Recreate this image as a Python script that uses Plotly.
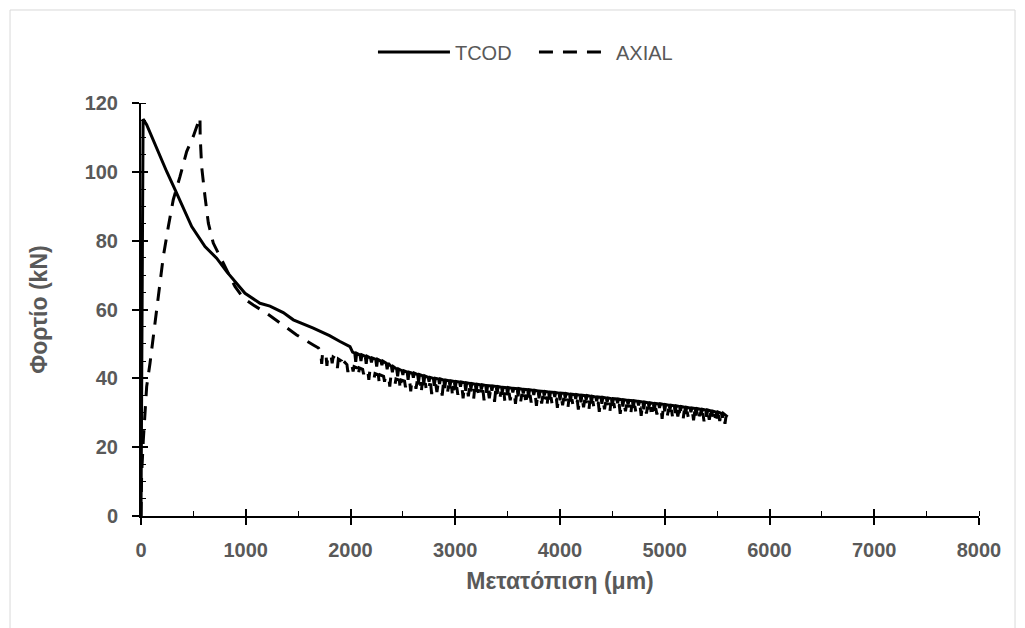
import plotly.graph_objects as go

# ---- data ----
# TCOD: smooth part
tcod_x = [0, 5, 10, 20, 54, 102, 181, 245, 325, 404, 484, 611, 722, 818, 913, 993,
          1136, 1231, 1358, 1454, 1645, 1800, 1900, 1995, 2020]
tcod_y = [0, 40, 90, 115.3, 113.7, 110.3, 104.4, 100.1, 94.8, 89.4, 84.1, 78.3, 74.9, 71.0, 67.6, 64.7,
          61.8, 61.0, 59.1, 57.0, 54.6, 52.4, 50.7, 49.2, 47.6]
# TCOD: noisy part (spike positions, upper level, spike bottom)
tcod_spike_x = [2050, 2100, 2150, 2200, 2250, 2300, 2350, 2400, 2450, 2500, 2550, 2600,
                2650, 2700, 2750, 2800, 2850, 2900, 2950, 3000, 3050, 3100, 3150, 3200,
                3250, 3300, 3350, 3400, 3450, 3500, 3550, 3600, 3650, 3700, 3750, 3800,
                3850, 3900, 3950, 4000, 4050, 4100, 4150, 4200, 4250, 4300, 4350, 4400,
                4450, 4500, 4550, 4600, 4650, 4700, 4750, 4800, 4850, 4900, 4950, 5000,
                5050, 5100, 5150, 5200, 5250, 5300, 5350, 5400, 5450, 5500, 5550]
tcod_top = [47.3, 46.8, 46.4, 45.9, 45.5, 45.0, 44.4, 43.4, 42.7, 42.2, 41.8, 41.5,
            41.1, 40.7, 40.3, 40.0, 39.8, 39.5, 39.3, 39.1, 38.9, 38.7, 38.5, 38.3,
            38.1, 37.9, 37.8, 37.6, 37.4, 37.3, 37.1, 37.0, 36.8, 36.7, 36.5, 36.3,
            36.2, 36.0, 35.9, 35.7, 35.6, 35.4, 35.3, 35.1, 35.0, 34.8, 34.6, 34.5,
            34.3, 34.1, 34.0, 33.8, 33.6, 33.5, 33.3, 33.1, 32.9, 32.7, 32.6, 32.4,
            32.2, 32.0, 31.8, 31.6, 31.4, 31.2, 31.0, 30.8, 30.5, 30.2, 29.8]
tcod_dip = [44.8, 45.0, 44.2, 44.6, 43.4, 43.8, 42.6, 41.8, 40.6, 41.0, 39.6, 40.2,
            39.0, 38.4, 39.0, 37.8, 38.4, 37.2, 37.8, 36.9, 37.6, 36.4, 37.0, 36.2,
            36.8, 35.8, 36.4, 35.5, 36.1, 35.2, 35.9, 34.8, 35.6, 34.7, 35.2, 34.2,
            35.0, 34.0, 34.6, 33.6, 34.4, 33.4, 34.0, 33.0, 33.8, 32.8, 33.4, 32.6,
            33.1, 32.0, 32.8, 31.8, 32.4, 31.4, 32.1, 31.0, 31.8, 30.6, 31.4, 30.4,
            31.0, 29.9, 30.6, 29.6, 30.2, 29.2, 29.8, 28.8, 29.4, 28.3, 28.6]
tcod_end_x, tcod_end_y = 5600, 28.8

# AXIAL: smooth part
axial_x = [0, 6, 22, 38, 54, 86, 117, 150, 181, 213, 261, 308, 372, 436, 499, 547, 563,
           565, 579, 611, 643, 690, 754, 818, 897, 977, 1072, 1200, 1327, 1486, 1645, 1695]
axial_y = [0, 12, 22, 29, 37.6, 44.4, 52.1, 59.9, 67.6, 75.4, 84.1, 91.9, 98.6, 105.9, 110.3, 114.2, 115.8,
           110.3, 101.5, 92.8, 85.1, 79.3, 75.4, 71.5, 66.7, 63.3, 61.3, 58.9, 56.0, 52.6, 49.7, 48.8]
# AXIAL: noisy part
axial_spike_x = [1725, 1775, 1825, 1875, 1925, 1975, 2025, 2075, 2125, 2175, 2225, 2275,
                 2325, 2375, 2425, 2475, 2525, 2575, 2625, 2675, 2725, 2775, 2825, 2875,
                 2925, 2975, 3025, 3075, 3125, 3175, 3225, 3275, 3325, 3375, 3425, 3475,
                 3525, 3575, 3625, 3675, 3725, 3775, 3825, 3875, 3925, 3975, 4025, 4075,
                 4125, 4175, 4225, 4275, 4325, 4375, 4425, 4475, 4525, 4575, 4625, 4675,
                 4725, 4775, 4825, 4875, 4925, 4975, 5025, 5075, 5125, 5175, 5225, 5275,
                 5325, 5375, 5425, 5475, 5525, 5575]
axial_top = [47.6, 46.8, 46.2, 45.6, 45.0, 44.0, 43.4, 43.0, 42.6, 42.0, 41.4, 41.0,
             40.6, 40.2, 39.8, 39.5, 39.2, 38.9, 38.7, 38.5, 38.3, 38.1, 37.9, 37.7,
             37.5, 37.3, 37.1, 36.9, 36.7, 36.5, 36.4, 36.2, 36.0, 35.9, 35.7, 35.5,
             35.4, 35.2, 35.1, 34.9, 34.8, 34.6, 34.5, 34.3, 34.2, 34.0, 33.9, 33.7,
             33.6, 33.4, 33.3, 33.1, 33.0, 32.8, 32.7, 32.5, 32.4, 32.2, 32.0, 31.9,
             31.7, 31.5, 31.4, 31.2, 31.0, 30.9, 30.7, 30.5, 30.4, 30.2, 30.0, 29.9,
             29.7, 29.5, 29.4, 29.2, 29.0, 28.8]
axial_dip = [44.2, 43.6, 44.4, 43.0, 43.6, 41.8, 42.0, 40.8, 41.2, 39.6, 40.0, 38.4,
             39.0, 37.6, 38.2, 36.8, 37.4, 36.2, 37.0, 35.8, 36.4, 35.4, 36.0, 35.0,
             35.6, 34.6, 35.2, 34.2, 34.8, 33.8, 34.6, 33.6, 34.2, 33.2, 33.9, 32.9,
             33.6, 32.6, 33.3, 32.3, 33.0, 32.0, 32.7, 31.8, 32.4, 31.4, 32.2, 31.2,
             31.9, 30.9, 31.6, 30.6, 31.3, 30.3, 31.0, 30.0, 30.7, 29.7, 30.4, 29.4,
             30.1, 29.1, 29.8, 28.8, 29.5, 28.2, 29.2, 28.6, 28.9, 28.0, 28.6, 27.8,
             28.3, 27.5, 28.0, 27.2, 27.6, 26.8]

x_ticks = [0, 1000, 2000, 3000, 4000, 5000, 6000, 7000, 8000]
y_ticks = [0, 20, 40, 60, 80, 100, 120]


def with_spikes(base_x, base_y, sx, top, dip, end=None, half=9):
    xs, ys = list(base_x), list(base_y)
    for c, t, d in zip(sx, top, dip):
        xs += [c - half, c, c + half]
        ys += [t, d, t]
    if end is not None:
        xs.append(end[0])
        ys.append(end[1])
    return xs, ys


tx, ty = with_spikes(tcod_x, tcod_y, tcod_spike_x, tcod_top, tcod_dip, (tcod_end_x, tcod_end_y))
ax, ay = with_spikes(axial_x, axial_y, axial_spike_x, axial_top, axial_dip)

FONT = "Liberation Sans, Arial, sans-serif"
GREY = "#595959"

fig = go.Figure()
fig.add_trace(go.Scatter(x=tx, y=ty, mode="lines", name="TCOD",
                         line=dict(color="black", width=3)))
fig.add_trace(go.Scatter(x=ax, y=ay, mode="lines", name="AXIAL",
                         line=dict(color="black", width=3, dash="14px,10px")))
# invisible trace to carry the overlay axes (inner half of the major ticks)
fig.add_trace(go.Scatter(x=[None], y=[None], xaxis="x2", yaxis="y2",
                         showlegend=False, hoverinfo="skip"))

fig.update_layout(
    width=1017, height=620,
    paper_bgcolor="white", plot_bgcolor="white",
    margin=dict(l=133, r=46, t=95, b=112),
    font=dict(family=FONT, color=GREY),
    legend=dict(orientation="h", x=0.2768, xanchor="left", y=1.1235, yanchor="middle",
                font=dict(family=FONT, size=20, color=GREY),
                itemwidth=72, entrywidth=74),
    xaxis=dict(range=[0, 8000], tickvals=x_ticks, ticks="outside", ticklen=7, tickwidth=1.5,
               tickcolor="black", showline=True, linecolor="black", linewidth=2,
               showgrid=False, zeroline=False, ticklabelstandoff=8,
               tickfont=dict(family=FONT, size=20, color=GREY, weight="bold"),
               minor=dict(dtick=500, ticks="inside", ticklen=5, tickwidth=1.2, tickcolor="black"),
               title=dict(text="Μετατόπιση (μm)", standoff=13,
                          font=dict(family=FONT, size=23, color=GREY, weight="bold"))),
    yaxis=dict(range=[0, 120], tickvals=y_ticks, ticks="outside", ticklen=7, tickwidth=1.5,
               tickcolor="black", showline=True, linecolor="black", linewidth=2,
               showgrid=False, zeroline=False, ticklabelstandoff=10,
               tickfont=dict(family=FONT, size=20, color=GREY, weight="bold"),
               minor=dict(dtick=5, ticks="inside", ticklen=5, tickwidth=1.2, tickcolor="black"),
               title=dict(text="Φορτίο (kN)", standoff=31,
                          font=dict(family=FONT, size=23, color=GREY, weight="bold"))),
    xaxis2=dict(range=[0, 8000], overlaying="x", anchor="y2", tickvals=x_ticks,
                ticks="inside", ticklen=7, tickwidth=1.5, tickcolor="black",
                showticklabels=False, showline=False, showgrid=False, zeroline=False),
    yaxis2=dict(range=[0, 120], overlaying="y", anchor="x2", tickvals=y_ticks,
                ticks="inside", ticklen=7, tickwidth=1.5, tickcolor="black",
                showticklabels=False, showline=False, showgrid=False, zeroline=False),
    shapes=[dict(type="rect", xref="paper", yref="paper",
                 x0=-0.1563, x1=1.0430, y0=-0.30, y1=1.2252,
                 line=dict(color="#D9D9D9", width=1), fillcolor="rgba(0,0,0,0)", layer="below")],
)

fig.write_html("out.html")
